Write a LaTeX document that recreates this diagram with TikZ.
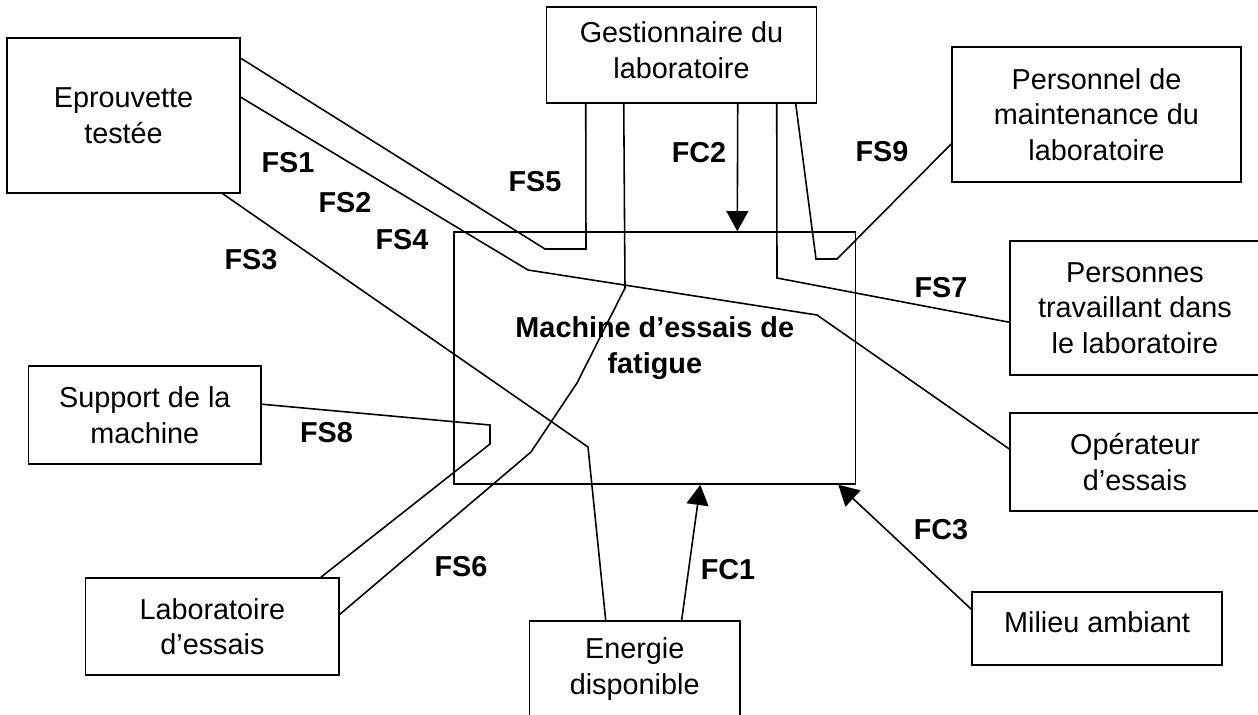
\documentclass[tikz,border=0pt]{standalone}
\usepackage{fontspec}
\setmainfont{Liberation Sans}
\usetikzlibrary{arrows.meta, calc}

\tikzset{
  bloc/.style={draw, line width=0.9pt, align=center, inner sep=0pt},
  repere/.style={font=\bfseries\fontsize{16.4}{20}\selectfont},
  lien/.style={line width=0.9pt},
  contrainte/.style={line width=0.9pt, -{Triangle[length=11.5pt, width=12.5pt]}}
}

\begin{document}
\begin{tikzpicture}[x=0.02cm, y=-0.02cm, font=\fontsize{16.4}{20.2}\selectfont]
  \useasboundingbox (0,0) rectangle (1258,714);

  \node[bloc, minimum width=4.66cm, minimum height=3.1cm] (ep) at (123.5,115.5) {Eprouvette\\ testée};
  \node[bloc, minimum width=5.4cm, minimum height=1.92cm, text depth=0.2cm] (gest) at (681.5,55) {Gestionnaire du\\ laboratoire};
  \node[bloc, minimum width=5.78cm, minimum height=2.71cm] (pers) at (1096.5,114.5) {Personnel de\\ maintenance du\\ laboratoire};
  \node[bloc, minimum width=5cm, minimum height=2.68cm] (trav) at (1135,308) {Personnes\\ travaillant dans\\ le laboratoire};
  \node[bloc, minimum width=5cm, minimum height=1.97cm] (oper) at (1135,462) {Opérateur\\ d’essais};
  \node[bloc, minimum width=8.03cm, minimum height=5.04cm, text depth=0.52cm, font=\bfseries\fontsize{16.4}{20.2}\selectfont] (mach) at (654.8,358) {Machine d’essais de\\ fatigue};
  \node[bloc, minimum width=4.65cm, minimum height=1.96cm] (supp) at (144.8,415) {Support de la\\ machine};
  \node[bloc, minimum width=5.07cm, minimum height=1.94cm] (labo) at (212.4,626.5) {Laboratoire\\ d’essais};
  \node[bloc, minimum width=4.21cm, minimum height=1.93cm] (ener) at (634.7,669) {Energie\\ disponible};
  \node[bloc, minimum width=5cm, minimum height=1.46cm, text depth=0.26cm] (mil) at (1097,628.5) {Milieu ambiant};

  % fonctions de service
  \draw[lien] ($(ep.north east)+(0,21)$) -- (545,249) -- (586,249) -- ($(gest.south west)+(40,0)$);
  \draw[lien] ($(ep.north east)+(0,60)$) -- (528,270) -- (817,315) -- ($(oper.north west)+(0,37)$);
  \draw[lien] ($(ep.south east)+(-18,0)$) -- (588,447) -- ($(ener.north west)+(77,0)$);
  \draw[lien] ($(gest.south west)+(78,0)$) -- (625,288) -- (577,383) -- (531,452) -- ($(labo.north east)+(0,37)$);
  \draw[lien] ($(supp.north east)+(0,39)$) -- (490,425) -- (490,444) -- ($(labo.north west)+(236,0)$);
  \draw[lien] ($(gest.south west)+(231,0)$) -- (777,278) -- ($(trav.north west)+(0,82)$);
  \draw[lien] ($(gest.south west)+(250,0)$) -- (816,259) -- (837,259) -- ($(pers.north west)+(0,98)$);

  % fonctions contraintes
  \draw[contrainte] ($(gest.south west)+(192,0)$) -- ($(mach.north west)+(284,0)$);
  \draw[contrainte] ($(ener.north west)+(153,0)$) -- ($(mach.south west)+(247,0)$);
  \draw[contrainte] ($(mil.north west)+(0,18)$) -- ($(mach.south east)+(-18,0)$);

  \node[repere] (fs1) at (288,163) {FS1};
  \node[repere] (fs2) at (345,203) {FS2};
  \node[repere] (fs3) at (251,260) {FS3};
  \node[repere] (fs4) at (402,240) {FS4};
  \node[repere] (fs5) at (535,182) {FS5};
  \node[repere] (fs6) at (461,567) {FS6};
  \node[repere] (fs7) at (941,288) {FS7};
  \node[repere] (fs8) at (326.5,433) {FS8};
  \node[repere] (fs9) at (882,152) {FS9};
  \node[repere] (fc1) at (728,570) {FC1};
  \node[repere] (fc2) at (699,153) {FC2};
  \node[repere] (fc3) at (941,530) {FC3};
\end{tikzpicture}
\end{document}
